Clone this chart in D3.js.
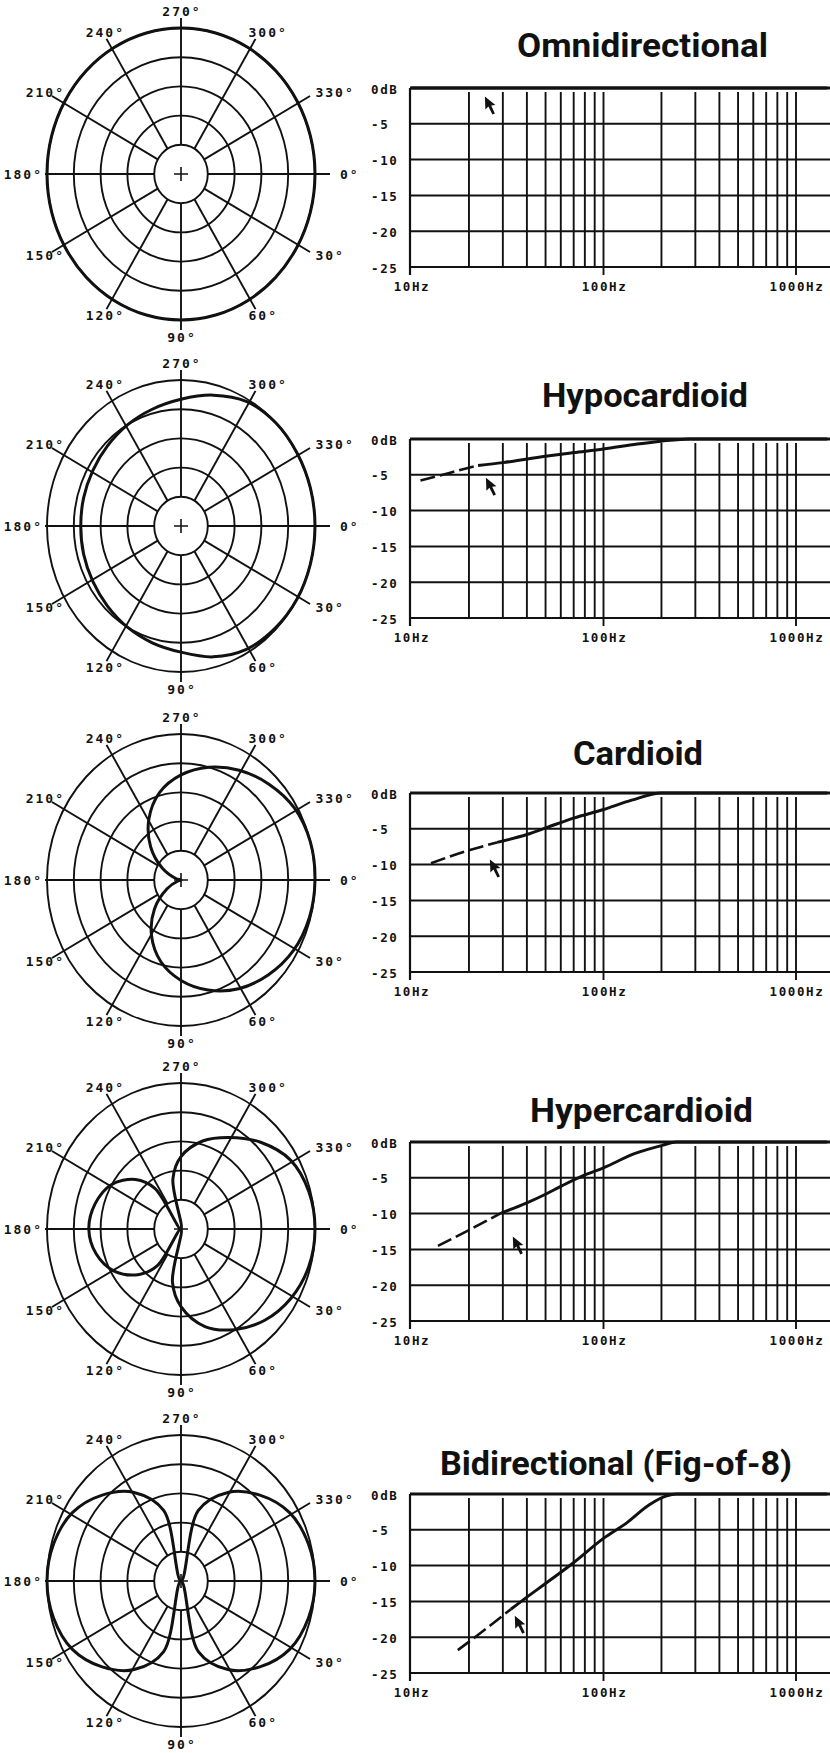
<!DOCTYPE html>
<html><head><meta charset="utf-8">
<script src="https://cdn.jsdelivr.net/npm/d3@7"></script>
<style>body{margin:0;background:#fff}svg{display:block}</style>
</head><body>
<svg id="c" width="830" height="1753"></svg>
<script>
// ---------- DATA ----------
const titles = ["Omnidirectional","Hypocardioid","Cardioid","Hypercardioid","Bidirectional (Fig-of-8)"];

const spokeAngles = [0,30,60,90,120,150,180,210,240,270,300,330];
const spokeLabels = ["0°","30°","60°","90°","120°","150°","180°","210°","240°","270°","300°","330°"];
const ringDb = [-20,-15,-10,-5,0];

// polar patterns (angle deg clockwise from 0° at right, level in dB)
const omniAngles = [0,15,30,45,60,75,90,105,120,135,150,165,180,195,210,225,240,255,270,285,300,315,330,345];
const omniDb     = [0,0,0,0,0,0,0,0,0,0,0,0,0,0,0,0,0,0,0,0,0,0,0,0];
const hypoAngles = [0,15,30,45,60,75,90,105,120,135,150,165,180,195,210,225,240,255,270,285,300,315,330,345];
const hypoDb     = [0,0,0,-0.2,-0.6,-1.8,-3.4,-4.3,-5.0,-5.6,-6.0,-6.2,-6.3,-6.2,-6.0,-5.6,-5.0,-4.3,-3.3,-1.8,-0.4,0,0,0];
const cardAngles = [0,15,30,45,60,75,90,105,120,135,150,165,180,195,210,225,240,255,270,285,300,315,330,345];
const cardDb     = [0,-0.2,-0.8,-2.0,-3.5,-5.5,-7.8,-10.5,-14,-18,-22,-24.5,-25,-24,-21,-17,-13,-9.5,-7.0,-5.0,-3.3,-1.8,-0.5,0];
const hyperAngles = [0,15,30,45,60,75,90,100,110,125,135,150,165,180,195,210,225,235,250,260,270,285,300,315,330,345];
const hyperDb     = [0,-0.3,-1.3,-2.9,-5.1,-7.7,-11.7,-15.8,-25,-17.4,-14,-10.6,-8.6,-7.8,-8.4,-9.9,-13,-16.5,-25,-16.3,-12.6,-9.4,-6.9,-4.0,-1.4,-0.3];
const biAngles = [0,15,30,45,60,75,90,105,120,135,150,165,180,195,210,225,240,255,270,285,300,315,330,345];
const biDb     = [0,-0.4,-1.6,-4.2,-7.5,-12.5,-25,-12.5,-7.5,-4.2,-1.6,-0.4,0,-0.4,-1.6,-4.2,-7.5,-12.5,-25,-12.5,-7.5,-4.2,-1.6,-0.4];

// frequency response axes
const dbTicks = [0,-5,-10,-15,-20,-25];
const dbTickLabels = ["0dB","-5","-10","-15","-20","-25"];
const gridFreqs = [20,30,40,50,60,70,80,90,100,200,300,400,500,600,700,800,900,1000];
const freqTicks = [10,100,1000];
const freqTickLabels = ["10Hz","100Hz","1000Hz"];

// frequency responses: dashed (extrapolated) low part and solid part
const omniDashFreq = [];            const omniDashDb = [];
const omniSolidFreq = [10,1450];    const omniSolidDb = [0,0];
const hypoDashFreq = [11.2,16,22.3];  const hypoDashDb = [-5.8,-4.7,-3.7];
const hypoSolidFreq = [22.3,30,50,70,100,150,200,280,1450];
const hypoSolidDb   = [-3.7,-3.3,-2.4,-1.9,-1.4,-0.7,-0.3,0,0];
const cardDashFreq = [12.7,20,28];   const cardDashDb = [-9.8,-8.0,-6.9];
const cardSolidFreq = [28,40,51,70,100,140,200,1450];
const cardSolidDb   = [-6.9,-5.8,-4.8,-3.5,-2.3,-1.0,0,0];
const hyperDashFreq = [13.8,20,29.5]; const hyperDashDb = [-14.5,-12.3,-9.9];
const hyperSolidFreq = [29.5,40,50,60,80,100,146,200,240,1450];
const hyperSolidDb   = [-9.9,-8.5,-7.3,-6.2,-4.6,-3.6,-1.6,-0.5,0,0];
const biDashFreq = [17.5,22,33];   const biDashDb = [-21.8,-19.8,-16.1];
const biSolidFreq = [33,40,50,69,100,131,173,211,240,1450];
const biSolidDb   = [-16.1,-14.4,-12.5,-9.7,-6.2,-4.1,-1.5,-0.3,0,0];

// pointer cursor marks on each response chart
const cursorFreq = [24.2,24.5,25.7,33.8,34.6];
const cursorDb   = [-1.2,-5.4,-9.3,-13.2,-17.0];

// ---------- LAYOUT ----------
const polarCX = 181, polarRX = 134, polarRY = 146;
const polarCY = [174,526,880,1229,1581];
const chartTop = [88,439,793,1142,1494];
const chartH = 179;
const chartX0 = 411, chartX1 = 796, chartRight = 830;
const titleBase = [57,407,765,1122,1475];
const titleSpan = [[517,768],[542,748],[573,703],[530,753],[440,792]];
const ink = "#111";
const monoFont = "'DejaVu Sans Mono', 'Liberation Mono', monospace";

const rows = [
  {pa: omniAngles, pd: omniDb, df: omniDashFreq, dd: omniDashDb, sf: omniSolidFreq, sd: omniSolidDb},
  {pa: hypoAngles, pd: hypoDb, df: hypoDashFreq, dd: hypoDashDb, sf: hypoSolidFreq, sd: hypoSolidDb},
  {pa: cardAngles, pd: cardDb, df: cardDashFreq, dd: cardDashDb, sf: cardSolidFreq, sd: cardSolidDb},
  {pa: hyperAngles, pd: hyperDb, df: hyperDashFreq, dd: hyperDashDb, sf: hyperSolidFreq, sd: hyperSolidDb},
  {pa: biAngles, pd: biDb, df: biDashFreq, dd: biDashDb, sf: biSolidFreq, sd: biSolidDb}
];

const svg = d3.select("#c");
svg.append("rect").attr("width",830).attr("height",1753).attr("fill","#fff");
const rad = d => d * Math.PI / 180;

rows.forEach((row, i) => {
  // ---------- POLAR ----------
  const g = svg.append("g").attr("transform", `translate(${polarCX},${polarCY[i]})`);
  const rn = d3.scaleLinear().domain([-25,0]).range([0,1]);
  const px = (a, db) => polarRX * rn(db) * Math.cos(rad(a));
  const py = (a, db) => polarRY * rn(db) * Math.sin(rad(a));

  g.selectAll("ellipse.ring").data(ringDb).join("ellipse")
    .attr("rx", d => polarRX * rn(d)).attr("ry", d => polarRY * rn(d))
    .attr("fill","none").attr("stroke",ink).attr("stroke-width", 1.9);

  g.selectAll("line.spoke").data(spokeAngles).join("line")
    .attr("x1", d => px(d, -20)).attr("y1", d => py(d, -20))
    .attr("x2", d => (d===180?136:149)*Math.cos(rad(d)))
    .attr("y2", d => 156*Math.sin(rad(d)))
    .attr("stroke",ink).attr("stroke-width",1.9);

  g.append("path").attr("d","M-7,0H7M0,-7V7").attr("stroke",ink).attr("stroke-width",1.6);

  g.selectAll("text.lab").data(spokeAngles).join("text")
    .attr("x", d => {
      const c = Math.cos(rad(d));
      if (Math.abs(c) < 0.1) return 1;
      return c > 0 ? 183*c - 24 : 164*c + 26;
    })
    .attr("y", d => 163*Math.sin(rad(d)))
    .attr("text-anchor", d => {
      const c = Math.cos(rad(d));
      return Math.abs(c) < 0.1 ? "middle" : (c > 0 ? "start" : "end");
    })
    .attr("dominant-baseline","central")
    .attr("font-family", monoFont).attr("font-weight","bold")
    .attr("font-size", 13).attr("letter-spacing", 2).attr("fill", ink)
    .text((d,k) => spokeLabels[k]);

  const pattern = d3.line()
    .x((d,k) => px(row.pa[k], d))
    .y((d,k) => py(row.pa[k], d))
    .curve(d3.curveCatmullRomClosed.alpha(0.5));
  g.append("path").datum(row.pd).attr("d", pattern)
    .attr("fill","none").attr("stroke",ink).attr("stroke-width",3)
    .attr("stroke-linejoin","round");

  // ---------- FREQUENCY RESPONSE ----------
  const top = chartTop[i], bot = top + chartH;
  const x = d3.scaleLog().domain([10,1000]).range([chartX0, chartX1]);
  const y = d3.scaleLinear().domain([-25,0]).range([bot, top]);
  const c = svg.append("g");

  c.selectAll("line.vg").data(gridFreqs).join("line")
    .attr("x1", d => x(d)).attr("x2", d => x(d))
    .attr("y1", top + 4).attr("y2", bot)
    .attr("stroke", ink).attr("stroke-width", 1.9);
  c.selectAll("line.hg").data(dbTicks).join("line")
    .attr("x1", x(10) - 1).attr("x2", chartRight)
    .attr("y1", d => y(d)).attr("y2", d => y(d))
    .attr("stroke", ink).attr("stroke-width", d => d === 0 ? 2.8 : 2);
  c.append("line").attr("x1", x(10) - 1).attr("x2", x(10) - 1)
    .attr("y1", top).attr("y2", bot + 8).attr("stroke", ink).attr("stroke-width", 2.2);
  c.selectAll("line.tk").data(freqTicks.slice(1)).join("line")
    .attr("x1", d => x(d)).attr("x2", d => x(d))
    .attr("y1", bot).attr("y2", bot + 8).attr("stroke", ink).attr("stroke-width", 1.9);

  c.selectAll("text.yl").data(dbTicks).join("text")
    .attr("x", 371).attr("y", d => y(d) + 1)
    .attr("dominant-baseline","central")
    .attr("font-family", monoFont).attr("font-weight","bold")
    .attr("font-size", 12.5).attr("letter-spacing", 1.6).attr("fill", ink)
    .text((d,k) => dbTickLabels[k]);
  c.selectAll("text.xl").data(freqTicks).join("text")
    .attr("x", d => x(d) + 1).attr("y", bot + 19)
    .attr("text-anchor","middle").attr("dominant-baseline","central")
    .attr("font-family", monoFont).attr("font-weight","bold")
    .attr("font-size", 12.5).attr("letter-spacing", 1.6).attr("fill", ink)
    .text((d,k) => freqTickLabels[k]);

  const line = d3.line().x(d => x(d[0])).y(d => y(d[1])).curve(d3.curveMonotoneX);
  if (row.df.length) {
    c.append("path").datum(row.df.map((f,k) => [f, row.dd[k]])).attr("d", line)
      .attr("fill","none").attr("stroke",ink).attr("stroke-width",2.6)
      .attr("stroke-dasharray","15,5");
  }
  c.append("path").datum(row.sf.map((f,k) => [f, row.sd[k]])).attr("d", line)
    .attr("fill","none").attr("stroke",ink).attr("stroke-width",3);

  c.append("path")
    .attr("transform", `translate(${x(cursorFreq[i])},${y(cursorDb[i])})`)
    .attr("d","M0,0 L0.5,13 L3.5,10 L7.5,18 L10,16.8 L6.3,9 L10.5,8.5 Z")
    .attr("fill", ink);

  svg.append("text")
    .attr("x", titleSpan[i][0]).attr("y", titleBase[i])
    .attr("textLength", titleSpan[i][1] - titleSpan[i][0])
    .attr("lengthAdjust","spacingAndGlyphs")
    .attr("font-family","Roboto, 'Open Sans', sans-serif").attr("font-weight",700)
    .attr("font-size", 33).attr("fill", ink)
    .text(titles[i]);
});
</script>
</body></html>
